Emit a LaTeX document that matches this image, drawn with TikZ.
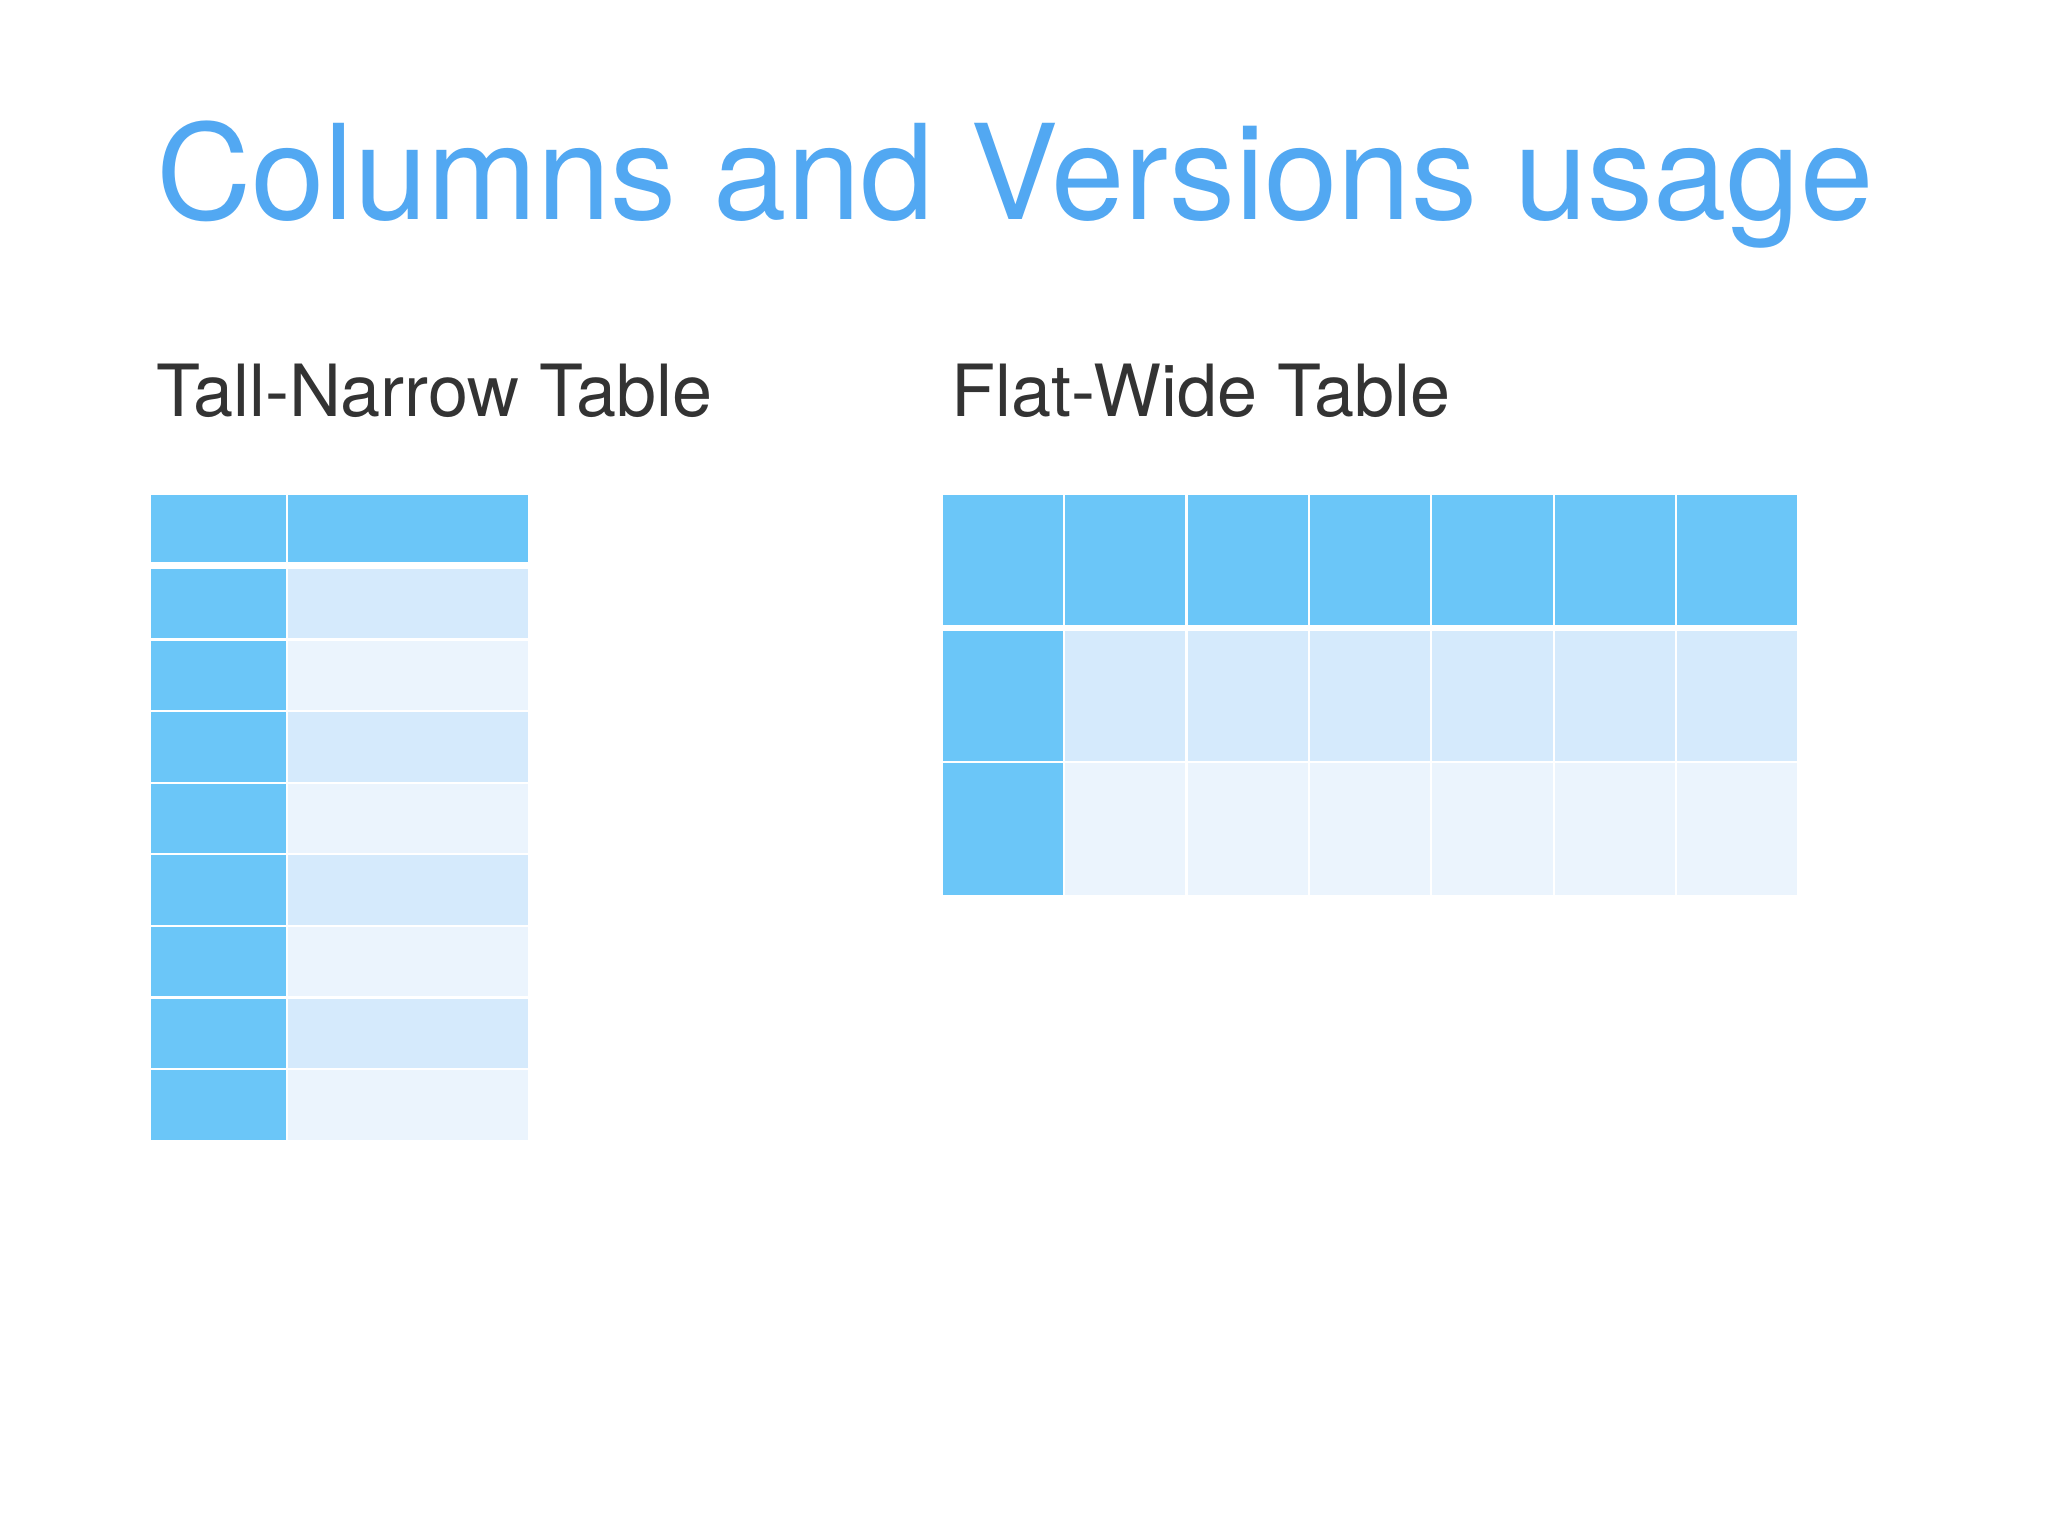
\documentclass[tikz,border=0pt]{standalone}
\usepackage{fontspec}
\setmainfont{TeX Gyre Heros}
\definecolor{titleblue}{HTML}{52A8F2}
\definecolor{subgray}{HTML}{333333}
\definecolor{hdrblue}{HTML}{6BC6F8}
\definecolor{rowa}{HTML}{D5EAFC}
\definecolor{rowb}{HTML}{EBF4FD}
\begin{document}
\begin{tikzpicture}[x=1pt,y=-1pt,
  cell/.style={rectangle,anchor=north west,inner sep=0pt,outer sep=0pt,draw=none},
  titletext/.style={anchor=base west,inner sep=0pt,text=titleblue,font=\fontsize{132}{150}\selectfont},
  subtext/.style={anchor=base west,inner sep=0pt,text=subgray,font=\fontsize{72}{86}\selectfont}]
\fill[white] (0,0) rectangle (2048,1536);
\useasboundingbox (0,0) rectangle (2048,1536);
\node[titletext] (title) at (156,219) {Columns and Versions usage};
\node[subtext] (subA) at (156,416.7) {Tall-Narrow Table};
\node[subtext] (subB) at (951,416.7) {Flat-Wide Table};
% Tall-narrow table
\node[cell,fill=hdrblue,minimum width=134.7pt,minimum height=67.3pt] (th1) at (151,495) {};
\node[cell,fill=hdrblue,minimum width=240.3pt,minimum height=67.3pt] (th2) at (287.7,495) {};
\foreach \i in {1,...,8}{
  \pgfmathsetmacro{\yy}{569+(\i-1)*71.6}
  \pgfmathtruncatemacro{\myparity}{mod(\i,2)}
  \ifnum\myparity=1 \def\rc{rowa}\else\def\rc{rowb}\fi
  \node[cell,fill=hdrblue,minimum width=134.7pt,minimum height=69.3pt] (tk\i) at (151,\yy) {};
  \node[cell,fill=\rc,minimum width=240.3pt,minimum height=69.3pt] (tv\i) at (287.7,\yy) {};
}
% Flat-wide table
\foreach \j in {1,...,7}{
  \pgfmathsetmacro{\xx}{942.7+(\j-1)*122.4}
  \node[cell,fill=hdrblue,minimum width=120.3pt,minimum height=129.7pt] (wh\j) at (\xx,495) {};
  \ifnum\j=1
    \node[cell,fill=hdrblue,minimum width=120.3pt,minimum height=130pt] (wa\j) at (\xx,631) {};
    \node[cell,fill=hdrblue,minimum width=120.3pt,minimum height=132pt] (wb\j) at (\xx,763) {};
  \else
    \node[cell,fill=rowa,minimum width=120.3pt,minimum height=130pt] (wa\j) at (\xx,631) {};
    \node[cell,fill=rowb,minimum width=120.3pt,minimum height=132pt] (wb\j) at (\xx,763) {};
  \fi
}
\end{tikzpicture}
\end{document}
